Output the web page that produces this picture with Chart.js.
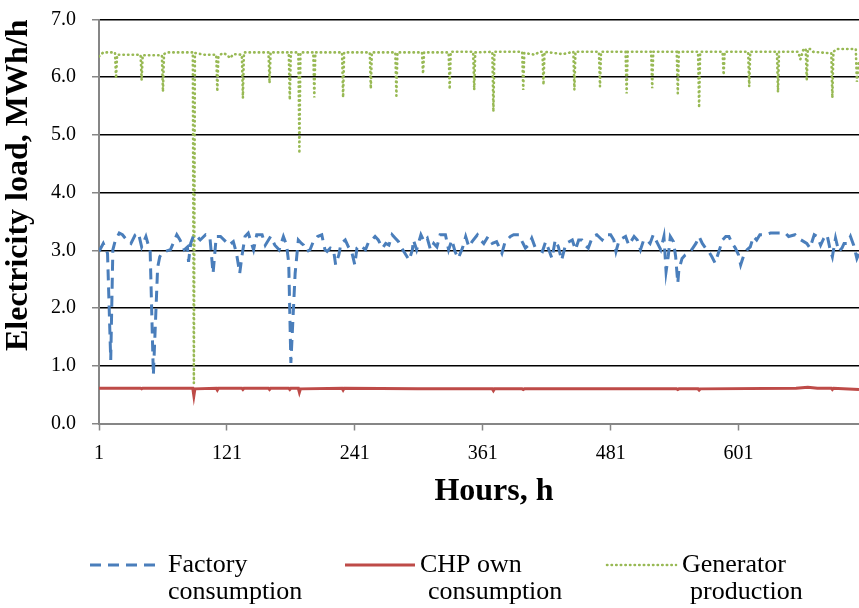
<!DOCTYPE html>
<html>
<head>
<meta charset="utf-8">
<script src="https://cdn.jsdelivr.net/npm/chart.js@4.4.1/dist/chart.umd.min.js"></script>
<style>
    html, body { margin: 0; padding: 0; background: #fff; }
    #wrap { width: 859px; height: 608px; position: relative; }
</style>
</head>
<body>
<div id="wrap"><canvas id="loadChart"></canvas></div>
<script>
// hours shown on the x axis
const xTicks = [1, 121, 241, 361, 481, 601];
const hourMax = 714;

const seriesNames = ['Factory consumption', 'CHP own consumption', 'Generator production'];
const legendLines = [['Factory', 'consumption'], ['CHP own', 'consumption'], ['Generator', 'production']];
const xTitle = 'Hours, h';
const yTitle = 'Electricity load, MWh/h';

// [hour, MWh/h]
const factoryConsumption = [
    [1, 2.98], [5, 3.12], [9, 2.95], [12, 1.10], [14, 3.01], [16, 3.15], [20, 3.30], [23, 3.27],
    [27, 3.18], [31, 3.12], [35, 3.27], [38, 3.30], [41, 3.06], [45, 3.24], [49, 2.98], [52, 0.84],
    [56, 2.70], [58, 2.89], [60, 2.95], [63, 2.98], [68, 3.01], [74, 3.27], [77, 3.18], [81, 3.01],
    [84, 3.06], [85, 2.80], [87, 3.12], [90, 3.27], [93, 3.24], [96, 3.18], [101, 3.27], [105, 3.24],
    [108, 2.60], [111, 3.24], [115, 3.24], [120, 3.15], [123, 3.09], [127, 3.15], [130, 2.95], [133, 2.60],
    [135, 2.89], [138, 3.24], [141, 3.30], [146, 3.01], [149, 3.27], [154, 3.27], [157, 3.09], [162, 3.24],
    [166, 3.09], [170, 3.01], [174, 3.24], [177, 3.09], [179, 2.78], [181, 1.05], [185, 2.60], [188, 3.18],
    [191, 3.12], [193, 3.09], [196, 2.98], [199, 3.01], [202, 3.15], [206, 3.24], [210, 3.27], [213, 3.01],
    [215, 2.98], [218, 3.04], [221, 3.01], [223, 2.75], [226, 2.92], [228, 3.12], [232, 3.18], [235, 3.06],
    [238, 2.98], [241, 2.75], [243, 3.04], [246, 3.09], [251, 3.01], [254, 3.15], [257, 3.18], [260, 3.24],
    [263, 3.18], [267, 3.04], [270, 3.12], [273, 3.09], [276, 3.27], [279, 3.21], [282, 3.15], [285, 3.04],
    [288, 2.95], [292, 2.83], [295, 3.01], [296, 3.18], [299, 3.01], [303, 3.27], [306, 3.15], [309, 3.21],
    [312, 3.01], [315, 3.12], [318, 3.06], [321, 3.27], [326, 3.27], [329, 3.01], [332, 3.18], [335, 2.98],
    [338, 2.86], [342, 3.04], [345, 3.24], [348, 3.06], [351, 3.15], [356, 3.27], [359, 3.18], [362, 3.12],
    [366, 3.24], [370, 3.12], [374, 3.15], [379, 2.95], [382, 3.15], [387, 3.24], [390, 3.27], [395, 3.27],
    [398, 3.15], [401, 3.04], [404, 3.09], [407, 3.21], [410, 3.06], [414, 3.01], [417, 2.98], [420, 3.15],
    [423, 3.01], [426, 2.86], [429, 3.18], [432, 3.06], [435, 2.83], [439, 3.12], [442, 3.15], [445, 3.18],
    [448, 3.01], [451, 3.18], [454, 3.18], [457, 3.09], [460, 3.04], [464, 3.24], [468, 3.27], [473, 3.18],
    [476, 3.27], [481, 3.27], [484, 3.18], [486, 2.98], [489, 3.18], [492, 3.21], [495, 3.24], [498, 3.09],
    [503, 3.24], [506, 3.18], [509, 3.01], [512, 3.18], [515, 3.18], [518, 3.12], [521, 3.27], [525, 3.12],
    [528, 3.01], [531, 3.24], [533, 2.63], [535, 2.89], [537, 3.24], [540, 3.15], [542, 2.89], [544, 2.43],
    [545, 2.66], [548, 2.86], [551, 2.92], [554, 2.95], [557, 3.01], [561, 3.12], [564, 3.24], [567, 3.12],
    [570, 3.04], [573, 2.98], [576, 2.89], [579, 2.78], [582, 2.95], [586, 3.18], [589, 3.24], [592, 3.24],
    [595, 3.12], [598, 3.04], [601, 2.92], [603, 2.75], [606, 2.92], [609, 3.01], [612, 3.06], [615, 3.24],
    [618, 3.18], [621, 3.27], [626, 3.27], [631, 3.30], [636, 3.30], [645, 3.30], [648, 3.24], [654, 3.27],
    [657, 3.21], [665, 3.12], [668, 3.04], [672, 3.27], [675, 3.24], [678, 3.09], [681, 3.21], [684, 3.27],
    [687, 3.01], [689, 2.89], [692, 3.21], [695, 2.98], [698, 3.04], [700, 3.12], [703, 3.12], [706, 3.24],
    [709, 3.09], [712, 2.86], [714, 2.95]
];

const chpOwnConsumption = [
    [1, 0.61], [40, 0.61], [41, 0.60], [42, 0.61], [89, 0.61], [90, 0.48], [91, 0.60], [111, 0.61],
    [112, 0.58], [113, 0.61], [135, 0.61], [136, 0.59], [137, 0.61], [160, 0.61], [161, 0.59], [162, 0.61],
    [179, 0.61], [180, 0.59], [181, 0.61], [188, 0.61], [189, 0.54], [190, 0.60], [229, 0.61], [230, 0.58],
    [231, 0.61], [300, 0.60], [370, 0.60], [371, 0.57], [372, 0.60], [398, 0.60], [399, 0.59], [400, 0.60],
    [543, 0.60], [544, 0.59], [545, 0.60], [563, 0.60], [564, 0.58], [565, 0.60], [655, 0.61], [666, 0.63],
    [675, 0.61], [688, 0.61], [689, 0.59], [690, 0.61], [714, 0.59]
];

const generatorProduction = [
    [1, 6.36], [5, 6.43], [16, 6.43], [17, 5.98], [18, 6.39], [40, 6.39], [41, 5.95], [42, 6.38],
    [60, 6.38], [61, 5.75], [62, 6.40], [65, 6.43], [89, 6.43], [90, 0.70], [91, 6.42], [100, 6.39],
    [111, 6.39], [112, 5.75], [113, 6.36], [117, 6.42], [121, 6.39], [124, 6.33], [127, 6.40], [135, 6.39],
    [136, 5.64], [137, 6.43], [160, 6.43], [161, 5.90], [162, 6.43], [179, 6.43], [180, 5.61], [181, 6.43],
    [188, 6.43], [189, 4.68], [190, 6.43], [202, 6.43], [203, 5.65], [204, 6.43], [229, 6.43], [230, 5.65],
    [231, 6.43], [255, 6.43], [256, 5.80], [257, 6.43], [279, 6.43], [280, 5.68], [281, 6.43], [304, 6.43],
    [305, 6.06], [306, 6.43], [329, 6.43], [330, 5.79], [331, 6.44], [352, 6.44], [353, 5.78], [354, 6.43],
    [370, 6.44], [371, 5.40], [372, 6.44], [398, 6.44], [399, 5.78], [400, 6.42], [410, 6.39], [414, 6.44],
    [417, 6.44], [418, 5.87], [419, 6.44], [436, 6.40], [446, 6.44], [447, 5.78], [448, 6.44], [470, 6.44],
    [471, 5.84], [472, 6.44], [495, 6.44], [496, 5.72], [497, 6.44], [519, 6.44], [520, 5.81], [521, 6.44],
    [543, 6.44], [544, 5.72], [545, 6.44], [563, 6.44], [564, 5.47], [565, 6.44], [586, 6.44], [587, 6.04],
    [588, 6.44], [610, 6.44], [611, 5.84], [612, 6.44], [637, 6.44], [638, 5.74], [639, 6.44], [657, 6.44],
    [659, 6.31], [662, 6.49], [664, 6.49], [665, 5.94], [666, 6.49], [668, 6.49], [671, 6.44], [684, 6.42],
    [688, 6.42], [689, 5.64], [690, 6.44], [693, 6.49], [711, 6.49], [712, 5.92], [714, 6.30]
];

const FONT = "'Liberation Serif', 'Times New Roman', serif";
const AXIS_GREY = '#868686';

const toPoints = rows => rows.map(([h, v]) => ({ x: h, y: v }));

// x title (sits a bit right of the plot centre) and the legend under the plot
const bottomText = {
    id: 'bottomText',
    afterDraw(chart) {
        const ctx = chart.ctx;
        ctx.save();
        ctx.fillStyle = '#000';
        ctx.textBaseline = 'middle';
        ctx.textAlign = 'center';
        ctx.font = `bold 32px ${FONT}`;
        ctx.fillText(xTitle, 494, 492);

        const items = [
            { x1: 90, x2: 160, tx: 168, indent: 0 },
            { x1: 345, x2: 415, tx: 420, indent: 8 },
            { x1: 607, x2: 676, tx: 682, indent: 8 }
        ];
        const lineY = 565;
        chart.data.datasets.forEach((ds, i) => {
            const it = items[i];
            ctx.beginPath();
            ctx.strokeStyle = ds.borderColor;
            ctx.lineWidth = ds.borderWidth;
            ctx.lineCap = ds.borderCapStyle || 'butt';
            ctx.setLineDash(ds.borderDash || []);
            ctx.moveTo(it.x1, lineY);
            ctx.lineTo(it.x2, lineY);
            ctx.stroke();
            ctx.setLineDash([]);
            ctx.font = `26px ${FONT}`;
            ctx.textAlign = 'left';
            ctx.fillText(legendLines[i][0], it.tx, lineY);
            ctx.fillText(legendLines[i][1], it.tx + it.indent, lineY + 27);
        });
        ctx.restore();
    }
};

new Chart(document.getElementById('loadChart').getContext('2d'), {
    type: 'line',
    data: {
        datasets: [
            {
                label: seriesNames[0],
                data: toPoints(factoryConsumption),
                borderColor: '#4A7EBB',
                borderWidth: 3,
                borderDash: [11, 7],
                pointRadius: 0,
                tension: 0
            },
            {
                label: seriesNames[1],
                data: toPoints(chpOwnConsumption),
                borderColor: '#BE4B48',
                borderWidth: 3,
                pointRadius: 0,
                tension: 0
            },
            {
                label: seriesNames[2],
                data: toPoints(generatorProduction),
                borderColor: '#98B954',
                borderWidth: 2.6,
                borderDash: [0.4, 4.2],
                borderCapStyle: 'round',
                pointRadius: 0,
                tension: 0
            }
        ]
    },
    options: {
        responsive: true,
        maintainAspectRatio: false,
        devicePixelRatio: 1,
        animation: false,
        layout: { padding: { left: 0, top: 19.5, right: 0, bottom: 94.5 } },
        plugins: {
            legend: { display: false },
            tooltip: { enabled: false }
        },
        scales: {
            x: {
                type: 'linear',
                min: 1,
                max: hourMax,
                afterBuildTicks: scale => { scale.ticks = xTicks.map(v => ({ value: v })); },
                afterFit: scale => { scale.height = 90; },
                ticks: {
                    autoSkip: false,
                    maxRotation: 0,
                    color: '#000',
                    padding: 11,
                    font: { family: FONT, size: 20 }
                },
                grid: { drawOnChartArea: false, tickLength: 7, tickColor: AXIS_GREY, tickWidth: 1.5 },
                border: { color: AXIS_GREY, width: 2 }
            },
            y: {
                min: 0,
                max: 7,
                afterFit: scale => {
                    scale.width = 99;
                    // tick padding would otherwise push the plot top down
                    scale.paddingTop = 0;
                    scale.paddingBottom = 0;
                },
                ticks: {
                    stepSize: 1,
                    color: '#000',
                    padding: 16,
                    font: { family: FONT, size: 20 },
                    callback: v => v.toFixed(1)
                },
                grid: {
                    color: c => (c.tick && c.tick.value === 0 ? 'rgba(0,0,0,0)' : '#000'),
                    lineWidth: 1.5,
                    tickLength: 7,
                    tickColor: AXIS_GREY,
                    tickWidth: 1.5
                },
                border: { color: AXIS_GREY, width: 2 },
                title: {
                    display: true,
                    text: yTitle,
                    align: 'end',
                    color: '#000',
                    font: { family: FONT, size: 32, weight: 'bold' },
                    padding: { top: 0, bottom: 0 }
                }
            }
        }
    },
    plugins: [bottomText]
});
</script>
</body>
</html>
